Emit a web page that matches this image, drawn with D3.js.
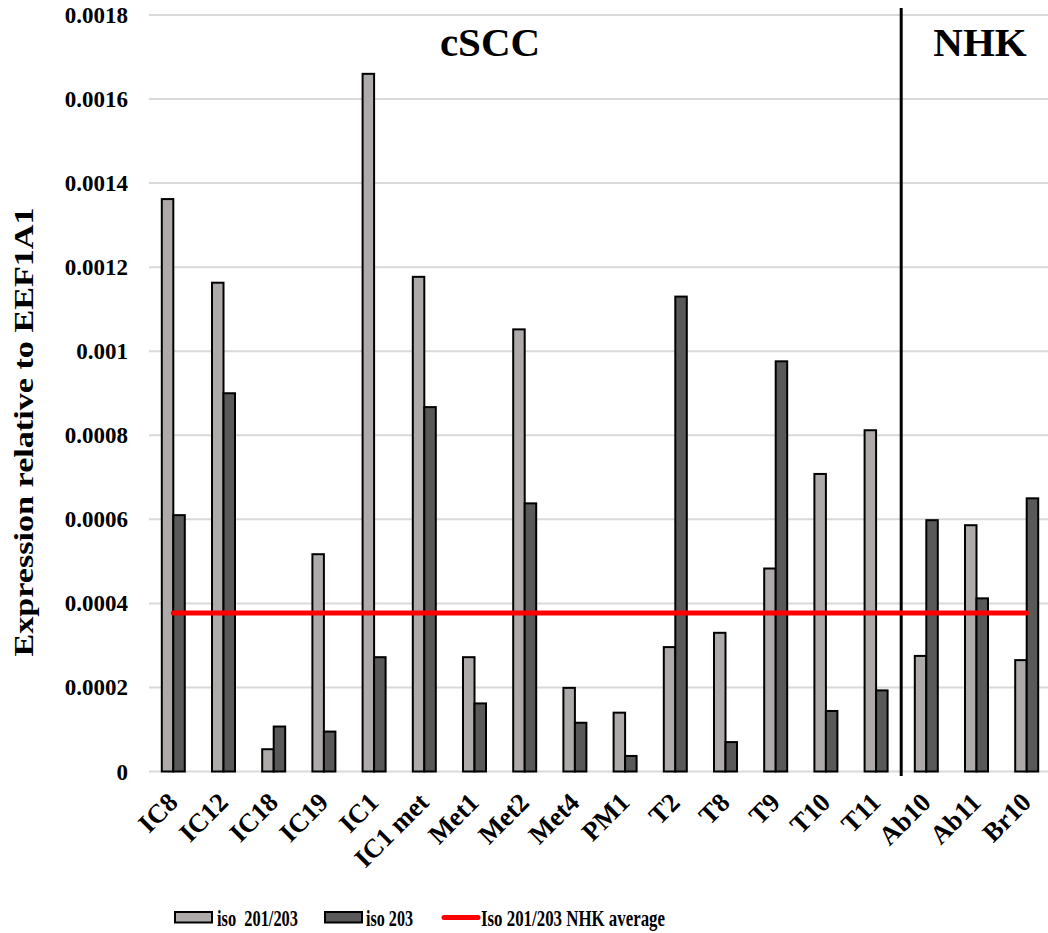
<!DOCTYPE html>
<html>
<head>
<meta charset="utf-8">
<script src="https://cdn.jsdelivr.net/npm/d3@7/dist/d3.min.js"></script>
<style>
  html, body { margin: 0; padding: 0; background: #fff; }
  svg { display: block; }
  text { font-family: "Liberation Serif", "Times New Roman", serif; font-weight: bold; fill: #000; }
</style>
</head>
<body>
<svg id="chart" width="1048" height="933"></svg>
<script>
// Samples (cSCC tumours, then normal human keratinocytes)
const categories = ["IC8", "IC12", "IC18", "IC19", "IC1", "IC1 met", "Met1", "Met2", "Met4", "PM1",
                    "T2", "T8", "T9", "T10", "T11", "Ab10", "Ab11", "Br10"];
// Expression relative to EEF1A1
const iso201_203 = [0.001362, 0.001163, 0.000053, 0.000517, 0.00166, 0.001177, 0.000272, 0.001052, 0.000199, 0.00014,
                    0.000296, 0.00033, 0.000483, 0.000708, 0.000812, 0.000275, 0.000586, 0.000265];
const iso203 = [0.00061, 0.0009, 0.000107, 0.000095, 0.000272, 0.000867, 0.000162, 0.000638, 0.000116, 0.000037,
                0.00113, 0.00007, 0.000976, 0.000144, 0.000193, 0.000598, 0.000412, 0.00065];
// Mean iso 201/203 level across the NHK samples
const nhkAverage = 0.000377;
const yTicks = [0, 0.0002, 0.0004, 0.0006, 0.0008, 0.001, 0.0012, 0.0014, 0.0016, 0.0018];
const yTickLabels = ["0", "0.0002", "0.0004", "0.0006", "0.0008", "0.001", "0.0012", "0.0014", "0.0016", "0.0018"];
const groups = [{ name: "cSCC", first: "IC8", last: "T11" }, { name: "NHK", first: "Ab10", last: "Br10" }];
const seriesNames = ["iso  201/203", "iso 203", "Iso 201/203 NHK average"];

const colLight = "#aeaaaa", colDark = "#595959", colAvg = "#ff0000";

const svg = d3.select("#chart");
const plotLeft = 148.2, step = 50.2;
const x = d3.scaleBand().domain(categories).range([plotLeft, plotLeft + step * categories.length]).padding(0);
const y = d3.scaleLinear().domain([0, 0.0018]).range([771.5, 15]);
const barW = 11.5;

// horizontal gridlines
svg.append("g").selectAll("line").data(yTicks).join("line")
  .attr("x1", 149).attr("x2", 1048)
  .attr("y1", d => y(d)).attr("y2", d => y(d))
  .attr("stroke", "#d9d9d9").attr("stroke-width", 2);

// y tick labels
svg.append("g").selectAll("text").data(yTicks).join("text")
  .attr("x", 128).attr("y", d => y(d)).attr("dy", "0.35em")
  .attr("text-anchor", "end").style("font-size", "23px")
  .text((d, i) => yTickLabels[i]);

// y axis title
svg.append("text")
  .attr("transform", "translate(33,432) rotate(-90)")
  .attr("text-anchor", "middle").style("font-size", "27px")
  .attr("textLength", 449).attr("lengthAdjust", "spacingAndGlyphs")
  .text("Expression relative to EEF1A1");

// bars
const cx = c => x(c) + x.bandwidth() / 2;
svg.append("g").selectAll("rect").data(categories).join("rect")
  .attr("x", c => cx(c) - barW).attr("width", barW)
  .attr("y", (c, i) => y(iso201_203[i])).attr("height", (c, i) => y(0) - y(iso201_203[i]))
  .attr("fill", colLight).attr("stroke", "#000").attr("stroke-width", 2);
svg.append("g").selectAll("rect").data(categories).join("rect")
  .attr("x", c => cx(c)).attr("width", barW)
  .attr("y", (c, i) => y(iso203[i])).attr("height", (c, i) => y(0) - y(iso203[i]))
  .attr("fill", colDark).attr("stroke", "#000").attr("stroke-width", 2);

// separator between cSCC and NHK
const sepX = x("Ab10");
svg.append("line")
  .attr("x1", sepX).attr("x2", sepX).attr("y1", 8).attr("y2", 776)
  .attr("stroke", "#000").attr("stroke-width", 3);

// NHK average line
const avgLine = d3.line().x(c => cx(c)).y(() => y(nhkAverage));
svg.append("path").datum(categories)
  .attr("d", avgLine).attr("fill", "none")
  .attr("stroke", colAvg).attr("stroke-width", 5).attr("stroke-linecap", "round");

// group labels
const groupX = { cSCC: 490, NHK: 980 };
svg.append("g").selectAll("text").data(groups).join("text")
  .attr("x", g => groupX[g.name]).attr("y", 56)
  .attr("text-anchor", "middle").style("font-size", "41px")
  .text(g => g.name);

// category labels
svg.append("g").selectAll("text").data(categories).join("text")
  .attr("transform", c => `translate(${cx(c) + 6},804) rotate(-45)`)
  .attr("text-anchor", "end").style("font-size", "26.5px")
  .text(c => c);

// legend
const leg = svg.append("g");
leg.append("rect").attr("x", 175).attr("y", 912).attr("width", 37).attr("height", 10.5)
  .attr("fill", colLight).attr("stroke", "#000").attr("stroke-width", 2);
leg.append("text").attr("x", 217).attr("y", 926).style("font-size", "24px")
  .attr("textLength", 81).attr("lengthAdjust", "spacingAndGlyphs")
  .attr("xml:space", "preserve").text(seriesNames[0]);
leg.append("rect").attr("x", 325).attr("y", 912).attr("width", 37).attr("height", 10.5)
  .attr("fill", colDark).attr("stroke", "#000").attr("stroke-width", 2);
leg.append("text").attr("x", 366).attr("y", 926).style("font-size", "24px")
  .attr("textLength", 47).attr("lengthAdjust", "spacingAndGlyphs")
  .text(seriesNames[1]);
leg.append("line").attr("x1", 444).attr("x2", 478).attr("y1", 917.5).attr("y2", 917.5)
  .attr("stroke", colAvg).attr("stroke-width", 5).attr("stroke-linecap", "round");
leg.append("text").attr("x", 481).attr("y", 926).style("font-size", "24px")
  .attr("textLength", 184).attr("lengthAdjust", "spacingAndGlyphs")
  .text(seriesNames[2]);
</script>
</body>
</html>
